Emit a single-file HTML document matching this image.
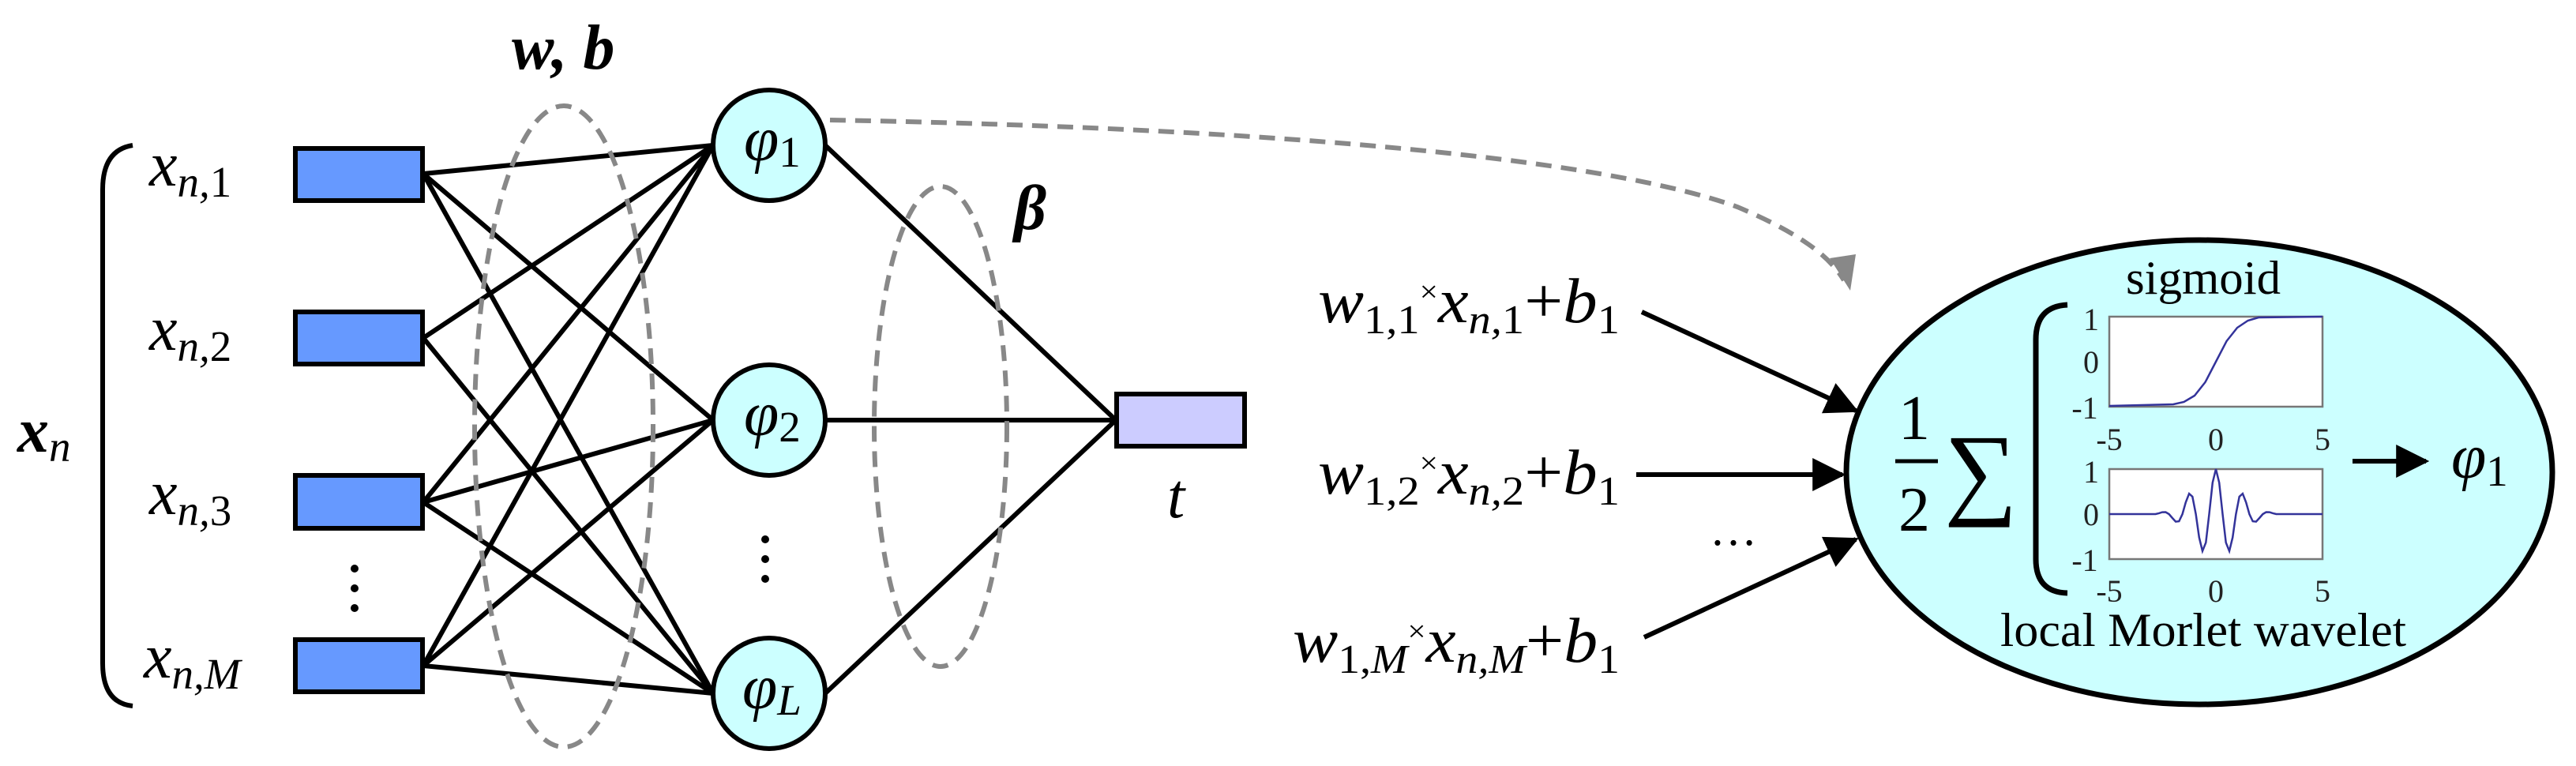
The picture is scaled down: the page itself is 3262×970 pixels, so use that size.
<!DOCTYPE html>
<html><head><meta charset="utf-8"><style>html,body{margin:0;padding:0;background:#fff}svg{display:block}svg text{font-family:"Liberation Serif","Times New Roman","DejaVu Serif",Times,serif}</style></head>
<body>
<svg width="3262" height="970" viewBox="0 0 3262 970" xmlns="http://www.w3.org/2000/svg">
<defs>
<marker id="ah" viewBox="0 0 10 10" refX="9" refY="5" markerWidth="7" markerHeight="7" orient="auto" markerUnits="strokeWidth"><path d="M0,0 L10,5 L0,10 z" fill="#000"/></marker>
</defs>
<path d="M168,184 Q130,190 130,240 L130,840 Q130,890 168,894" fill="none" stroke="#000" stroke-width="6"/>
<g font-size="80" font-style="italic">
<text x="189" y="235">x<tspan font-size="55" dy="14">n,</tspan><tspan font-size="55" font-style="normal">1</tspan></text>
<text x="189" y="443">x<tspan font-size="55" dy="14">n,</tspan><tspan font-size="55" font-style="normal">2</tspan></text>
<text x="189" y="651">x<tspan font-size="55" dy="14">n,</tspan><tspan font-size="55" font-style="normal">3</tspan></text>
<text x="182" y="858">x<tspan font-size="55" dy="14">n,M</tspan></text>
<text x="22" y="572" font-weight="bold">x<tspan font-size="55" font-weight="normal" dy="12">n</tspan></text>
<text x="648" y="87" font-weight="bold">w, b</text>
<text x="1284" y="290" font-weight="bold">β</text>
<text x="1478" y="655">t</text>
</g>
<g fill="#000"><circle cx="449" cy="720" r="5"/><circle cx="449" cy="745" r="5"/><circle cx="449" cy="770" r="5"/>
<circle cx="969" cy="683" r="5"/><circle cx="969" cy="708" r="5"/><circle cx="969" cy="733" r="5"/></g>
<g stroke="#000" stroke-width="6">
<line x1="536" y1="220" x2="903" y2="184"/><line x1="536" y1="220" x2="903" y2="532"/><line x1="536" y1="220" x2="903" y2="878"/>
<line x1="536" y1="428" x2="903" y2="184"/><line x1="536" y1="428" x2="903" y2="878"/>
<line x1="536" y1="636" x2="903" y2="184"/><line x1="536" y1="636" x2="903" y2="532"/><line x1="536" y1="636" x2="903" y2="878"/>
<line x1="536" y1="843" x2="903" y2="184"/><line x1="536" y1="843" x2="903" y2="532"/><line x1="536" y1="843" x2="903" y2="878"/>
<line x1="1045" y1="184" x2="1413" y2="532"/><line x1="1045" y1="532" x2="1413" y2="532"/><line x1="1045" y1="878" x2="1413" y2="532"/>
</g>
<g fill="#6699ff" stroke="#000" stroke-width="6">
<rect x="374" y="188" width="161" height="66"/><rect x="374" y="395" width="161" height="66"/>
<rect x="374" y="602" width="161" height="67"/><rect x="374" y="810" width="161" height="66"/>
</g>
<rect x="1414" y="499" width="162" height="66" fill="#ccccff" stroke="#000" stroke-width="6"/>
<g fill="none" stroke="#888" stroke-width="6" stroke-dasharray="20 12">
<ellipse cx="714" cy="540" rx="113" ry="406"/>
<ellipse cx="1191" cy="540" rx="84" ry="304"/>
<path d="M1051,152 C1500,160 2000,190 2200,262 C2290,300 2320,330 2335,355"/>
</g>
<path d="M2317,327 L2350,322 L2343,368 z" fill="#888"/>
<g fill="#ccffff" stroke="#000" stroke-width="6">
<ellipse cx="974" cy="184" rx="71" ry="70"/><ellipse cx="974" cy="532" rx="71" ry="70"/><ellipse cx="974" cy="878" rx="71" ry="70"/>
</g>
<g font-size="80" font-style="italic">
<text x="942" y="203">φ<tspan font-size="55" font-style="normal" dy="8">1</tspan></text>
<text x="942" y="551">φ<tspan font-size="55" font-style="normal" dy="8">2</tspan></text>
<text x="940" y="897">φ<tspan font-size="55" dy="8">L</tspan></text>
</g>
<ellipse cx="2785" cy="598" rx="447" ry="294" fill="#ccffff" stroke="#000" stroke-width="7"/>
<g stroke="#000" stroke-width="6" marker-end="url(#ah)">
<line x1="2079" y1="395" x2="2350" y2="520"/>
<line x1="2072" y1="601" x2="2333" y2="601"/>
<line x1="2082" y1="807" x2="2350" y2="683"/>
<line x1="2979" y1="584" x2="3072" y2="584"/>
</g>
<g font-size="80">
<text x="1669" y="408" textLength="382" lengthAdjust="spacingAndGlyphs"><tspan font-style="italic">w</tspan><tspan font-size="52" dy="14">1,1</tspan><tspan font-size="38" dy="-40">×</tspan><tspan font-style="italic" dy="26">x</tspan><tspan font-size="52" font-style="italic" dy="14">n,</tspan><tspan font-size="52">1</tspan><tspan dy="-14">+</tspan><tspan font-style="italic">b</tspan><tspan font-size="52" dy="14">1</tspan></text>
<text x="1669" y="625" textLength="382" lengthAdjust="spacingAndGlyphs"><tspan font-style="italic">w</tspan><tspan font-size="52" dy="14">1,2</tspan><tspan font-size="38" dy="-40">×</tspan><tspan font-style="italic" dy="26">x</tspan><tspan font-size="52" font-style="italic" dy="14">n,</tspan><tspan font-size="52">2</tspan><tspan dy="-14">+</tspan><tspan font-style="italic">b</tspan><tspan font-size="52" dy="14">1</tspan></text>
<text x="1637" y="838" textLength="414" lengthAdjust="spacingAndGlyphs"><tspan font-style="italic">w</tspan><tspan font-size="52" dy="14">1,</tspan><tspan font-size="52" font-style="italic">M</tspan><tspan font-size="38" dy="-40">×</tspan><tspan font-style="italic" dy="26">x</tspan><tspan font-size="52" font-style="italic" dy="14">n,M</tspan><tspan dy="-14">+</tspan><tspan font-style="italic">b</tspan><tspan font-size="52" dy="14">1</tspan></text>
<text x="2165" y="690" font-size="60">…</text>
<text x="2404" y="556" font-size="80">1</text>
<text x="2404" y="672" font-size="80">2</text>
<text x="2462" y="640" font-size="130">∑</text>
<text x="3104" y="605" font-style="italic">φ<tspan font-size="55" font-style="normal" dy="10">1</tspan></text>
<text x="2692" y="372" font-size="60" textLength="196" lengthAdjust="spacingAndGlyphs">sigmoid</text>
<text x="2533" y="818" font-size="60" textLength="514" lengthAdjust="spacingAndGlyphs">local Morlet wavelet</text>
</g>
<line x1="2400" y1="584" x2="2454" y2="584" stroke="#000" stroke-width="5"/>
<path d="M2618,386 Q2578,388 2578,430 L2578,708 Q2578,750 2618,751" fill="none" stroke="#000" stroke-width="7"/>
<g stroke="#777" stroke-width="2.5" fill="#fff">
<rect x="2671" y="401" width="270" height="114"/><rect x="2671" y="594" width="270" height="114"/>
</g>
<polyline fill="none" stroke="#33339a" stroke-width="2.5" points="2671,514 2752,512 2765.5,509 2779,501 2792.5,484 2806,458 2819.5,432 2833,415 2846.5,406 2860,402 2941,401"/>
<polyline fill="none" stroke="#33339a" stroke-width="2.5" points="2671,651 2729.6,651 2733.9,649.9 2738.1,648.6 2742.4,648.5 2746.6,651 2750.9,656 2755.1,660.6 2759.3,660.1 2763.6,651 2767.8,636.2 2772.1,625.1 2776.3,628.9 2780.6,651 2784.8,680.6 2789,697.8 2793.3,687.1 2797.5,651 2801.8,611.2 2806,594 2810.2,611.2 2814.5,651 2818.7,687.1 2823,697.8 2827.2,680.6 2831.4,651 2835.7,628.9 2839.9,625.1 2844.2,636.2 2848.4,651 2852.7,660.1 2856.9,660.6 2861.1,656 2865.4,651 2869.6,648.5 2873.9,648.6 2878.1,649.9 2882.4,651 2941,651"/>
<g font-size="40" fill="#222" text-anchor="middle">
<text x="2648" y="418">1</text><text x="2648" y="472">0</text><text x="2640" y="530">-1</text>
<text x="2671" y="570">-5</text><text x="2806" y="570">0</text><text x="2941" y="570">5</text>
<text x="2648" y="611">1</text><text x="2648" y="665">0</text><text x="2640" y="723">-1</text>
<text x="2671" y="762">-5</text><text x="2806" y="762">0</text><text x="2941" y="762">5</text>
</g>
</svg>
</body></html>
